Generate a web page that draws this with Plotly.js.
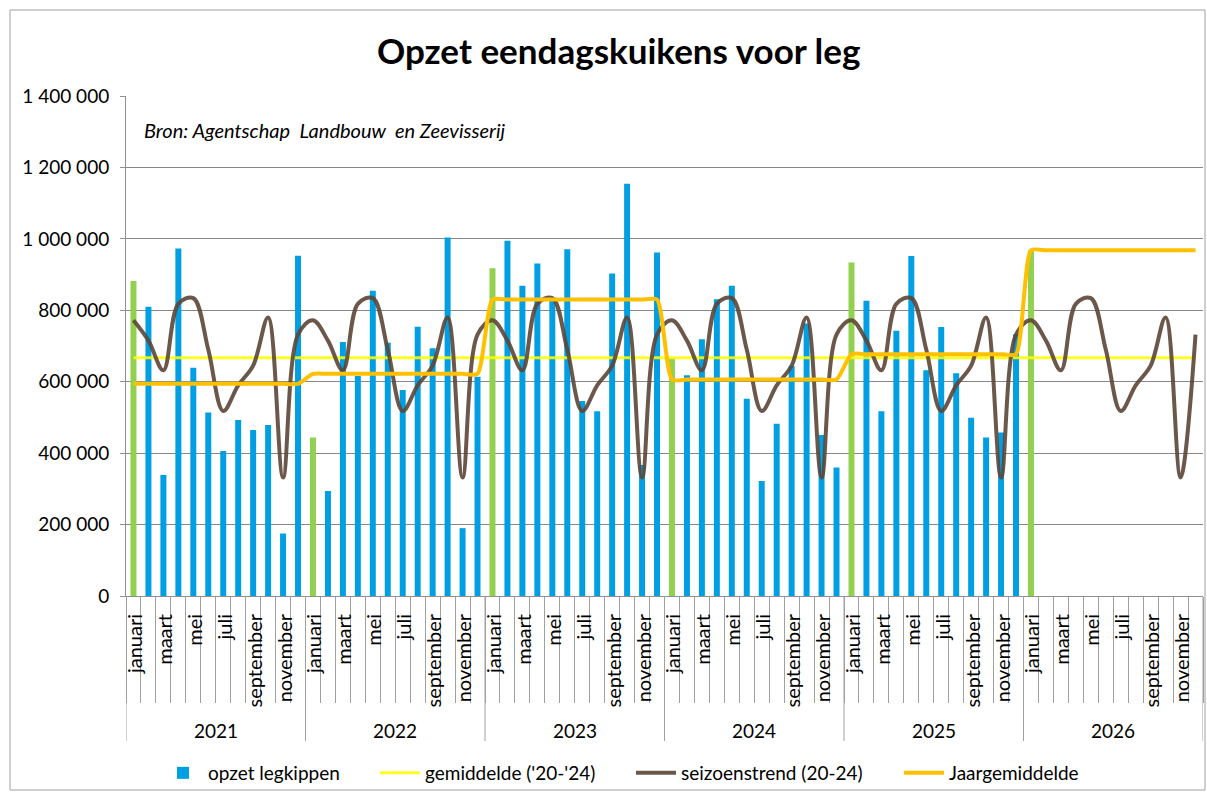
<!DOCTYPE html>
<html><head><meta charset="utf-8">
<script src="https://cdn.plot.ly/plotly-3.0.1.min.js"></script>
<style>html,body{margin:0;padding:0;background:#fff}#chart{width:1207px;height:798px}</style>
</head><body><div id="chart"></div>
<script>
const years = ['2021', '2022', '2023', '2024', '2025', '2026'];
const months = ['januari', 'februari', 'maart', 'april', 'mei', 'juni', 'juli', 'augustus', 'september', 'oktober', 'november', 'december'];
const opzetLegkippen = [
  882000, 810000, 339000, 973000, 639000, 514000, 406000, 493000, 465000, 479000, 175000, 953000,
  444000, 294000, 711000, 616000, 855000, 709000, 577000, 754000, 694000, 1004000, 190000, 614000,
  918000, 995000, 869000, 931000, 835000, 971000, 546000, 517000, 903000, 1154000, 367000, 962000,
  665000, 618000, 719000, 831000, 869000, 552000, 322000, 482000, 644000, 763000, 451000, 360000,
  934000, 827000, 517000, 743000, 952000, 632000, 753000, 624000, 499000, 444000, 458000, 733000,
  968000
];
const seizoensTrend = [772000, 715000, 632000, 818000, 834000, 690000, 518000, 590000, 645000, 780000, 332000, 732000];
const gemiddelde2024 = 667000;
const jaarGemiddelde = [594000, 622000, 830000, 606000, 677000, 968000];

const FONT = 'Lato, "Liberation Sans", sans-serif';
const nMonths = years.length * months.length;
const idx = Array.from({length: nMonths}, (_, i) => i);
const barIdx = opzetLegkippen.map((_, i) => i);
const otherIdx = barIdx.filter(i => i % 12 !== 0);
const janIdx = barIdx.filter(i => i % 12 === 0);
const BAR_W = 0.4;

// plot area in pixels
const L = 126, R = 1203, T = 96, B = 596, W = 1207, H = 798;
const px = v => (v - L) / (R - L);
const py = v => (B - v) / (B - T);

const traces = [
  {type: 'bar', name: 'opzet legkippen', x: otherIdx, y: otherIdx.map(i => opzetLegkippen[i]), width: BAR_W,
   marker: {color: '#009FE3'}, legend: 'legend', hoverinfo: 'y'},
  {type: 'bar', name: 'opzet legkippen (januari)', x: janIdx, y: janIdx.map(i => opzetLegkippen[i]), width: BAR_W,
   marker: {color: '#92D050'}, showlegend: false, hoverinfo: 'y'},
  {type: 'scatter', mode: 'lines', name: "gemiddelde ('20-'24)", x: [0, nMonths - 1], y: [gemiddelde2024, gemiddelde2024],
   line: {color: 'rgba(255,255,0,0.85)', width: 3}, legend: 'legend2'},
  {type: 'scatter', mode: 'lines', name: 'seizoenstrend (20-24)', x: idx, y: idx.map(i => seizoensTrend[i % 12]),
   line: {color: 'rgba(92,70,54,0.9)', width: 4, shape: 'spline', smoothing: 1}, legend: 'legend3'},
  {type: 'scatter', mode: 'lines', name: 'Jaargemiddelde', x: idx, y: idx.map(i => jaarGemiddelde[Math.floor(i / 12)]),
   line: {color: '#FFC000', width: 4, shape: 'spline', smoothing: 0.6}, legend: 'legend4'}
];

const tickIdx = idx.filter(i => i % 2 === 0);
const shapes = [];
for (let k = 0; k <= years.length; k++) {
  shapes.push({type: 'line', xref: 'x', yref: 'paper', x0: 12 * k - 0.5, x1: 12 * k - 0.5, y0: 0, y1: py(741),
               line: {color: '#a0a0a0', width: 1}});
}
shapes.push({type: 'rect', xref: 'paper', yref: 'paper', x0: px(10), x1: px(1205), y0: py(790), y1: py(10),
             line: {color: '#a0a0a0', width: 1}, layer: 'below'});

const annotations = [
  {text: '<b>Opzet eendagskuikens voor leg</b>', xref: 'paper', yref: 'paper', x: px(618), y: py(50),
   xanchor: 'center', yanchor: 'middle', showarrow: false, font: {size: 35, color: '#000', family: FONT}},
  {text: '<i>Bron: Agentschap  Landbouw  en Zeevisserij</i>', xref: 'paper', yref: 'paper', x: px(142), y: py(130),
   xanchor: 'left', yanchor: 'middle', showarrow: false, font: {size: 20, color: '#000', family: FONT}}
];
years.forEach((yr, k) => {
  annotations.push({text: yr, xref: 'x', yref: 'paper', x: 12 * k + 5.5, y: py(730), xanchor: 'center', yanchor: 'middle',
                    showarrow: false, font: {size: 19, color: '#000', family: FONT}});
});

const legendBase = {orientation: 'h', xanchor: 'left', yanchor: 'middle', y: py(773), bgcolor: 'rgba(0,0,0,0)',
                    font: {size: 19, color: '#000', family: FONT}, borderwidth: 0, itemwidth: 40};

const layout = {
  width: W, height: H,
  margin: {l: L, r: W - R, t: T, b: H - B, pad: 0},
  paper_bgcolor: '#fff', plot_bgcolor: '#fff',
  separators: ', ',
  font: {family: FONT, color: '#000'},
  barmode: 'overlay',
  xaxis: {range: [-0.5, nMonths - 0.5], tickmode: 'array', tickvals: tickIdx, ticktext: tickIdx.map(i => months[i % 12]),
          tickangle: -90, ticks: '', showgrid: false, zeroline: false, showline: true, linecolor: '#909090', linewidth: 1,
          tickfont: {size: 20, family: FONT, color: '#000'}, ticklabelstandoff: 9, ticklabelshift: 2,
          minor: {tick0: -0.5, dtick: 1, ticks: 'outside', ticklen: 106, tickcolor: '#a0a0a0', tickwidth: 1, showgrid: false},
          fixedrange: true},
  yaxis: {range: [0, 1400000], dtick: 200000, tickformat: ',.0f', showgrid: true, gridcolor: '#888888', gridwidth: 1,
          zeroline: false, showline: true, linecolor: '#909090', ticks: 'outside', ticklen: 5, tickcolor: '#909090',
          tickfont: {size: 19, family: FONT, color: '#000'}, ticklabelstandoff: 7, fixedrange: true},
  showlegend: true,
  legend: Object.assign({}, legendBase, {x: px(158)}),
  legend2: Object.assign({}, legendBase, {x: px(375)}),
  legend3: Object.assign({}, legendBase, {x: px(631)}),
  legend4: Object.assign({}, legendBase, {x: px(899)}),
  shapes: shapes,
  annotations: annotations
};

Plotly.newPlot('chart', traces, layout, {displayModeBar: false, responsive: false});
</script>
</body></html>
